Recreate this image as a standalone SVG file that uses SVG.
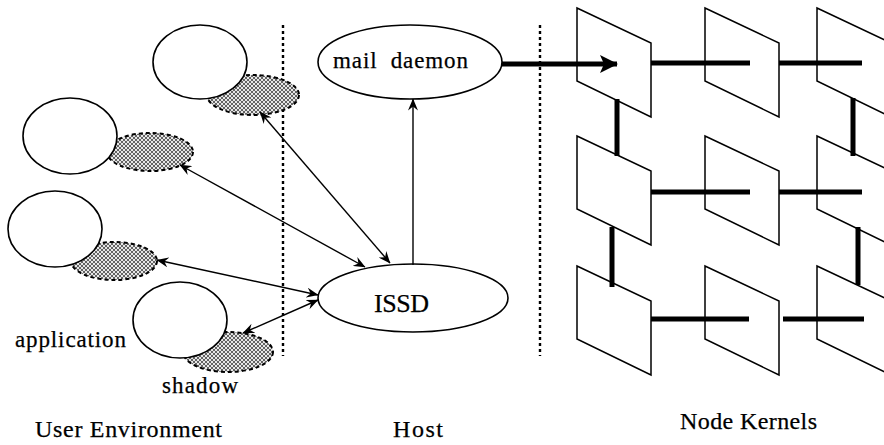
<svg xmlns="http://www.w3.org/2000/svg" width="884" height="445" viewBox="0 0 884 445">
  <style>
    .app { fill: #fff; stroke: #000; stroke-width: 1.6; }
    .shadow { fill: url(#hatch); stroke: #000; stroke-width: 2; stroke-dasharray: 4 3; }
    .proc { fill: #fff; stroke: #000; stroke-width: 1.6; }
    .kernel { fill: #fff; stroke: #000; stroke-width: 1.5; }
    .divider { stroke: #000; stroke-width: 2.4; stroke-dasharray: 3 3; fill: none; }
    .link { stroke: #000; stroke-width: 1.4; fill: none; }
    .net { stroke: #000; stroke-width: 5; fill: none; }
    text { font-family: "Liberation Serif", "Times New Roman", serif; fill: #000; stroke: #000; stroke-width: 0.25; }
  </style>
  <defs>
    <pattern id="hatch" width="4" height="4" patternUnits="userSpaceOnUse">
      <rect width="4" height="4" fill="#e6e6e6"/>
      <path d="M0,0 L4,4 M4,0 L0,4" stroke="#555" stroke-width="0.9"/>
    </pattern>
    <marker id="ah" viewBox="0 0 12 10" refX="11.5" refY="5" markerWidth="12" markerHeight="10" markerUnits="userSpaceOnUse" orient="auto-start-reverse">
      <path d="M0,0 L12,5 L0,10 L4,5 z" fill="#000"/>
    </marker>
    <marker id="bigah" viewBox="0 0 18 18" refX="17" refY="9" markerWidth="18" markerHeight="18" markerUnits="userSpaceOnUse" orient="auto">
      <path d="M0,0 L18,9 L0,18 L4,9 z" fill="#000"/>
    </marker>
    <path id="kernelShape" d="M0,0 L74,35 L74,109 L0,73 Z"/>
  </defs>

  <!-- region dividers -->
  <g id="dividers">
    <line class="divider" x1="283" y1="25" x2="283" y2="356"/>
    <line class="divider" x1="540" y1="25" x2="540" y2="356"/>
  </g>

  <!-- applications with their shadows -->
  <g id="app1">
    <ellipse class="shadow" cx="253" cy="95" rx="46" ry="20"/>
    <ellipse class="app" cx="200" cy="62" rx="47" ry="37"/>
  </g>
  <g id="app2">
    <ellipse class="shadow" cx="150" cy="152" rx="43" ry="19"/>
    <ellipse class="app" cx="70" cy="136" rx="47" ry="38"/>
  </g>
  <g id="app3">
    <ellipse class="shadow" cx="114" cy="261" rx="43" ry="19"/>
    <ellipse class="app" cx="55" cy="229" rx="47" ry="38"/>
  </g>
  <g id="app4">
    <ellipse class="shadow" cx="228" cy="352" rx="45" ry="20"/>
    <ellipse class="app" cx="180" cy="320" rx="47" ry="38"/>
  </g>

  <!-- host processes -->
  <g id="mail-daemon">
    <ellipse class="proc" cx="410" cy="62" rx="92" ry="37"/>
    <text x="333" y="68" font-size="23" textLength="135" lengthAdjust="spacing" xml:space="preserve">mail  daemon</text>
  </g>
  <g id="issd">
    <ellipse class="proc" cx="413" cy="298" rx="95" ry="34"/>
    <text x="374" y="312" font-size="26" textLength="55" lengthAdjust="spacing">ISSD</text>
  </g>

  <!-- node kernel mesh -->
  <g id="kernels">
    <g id="k11"><use href="#kernelShape" class="kernel" x="577" y="8"/></g>
    <g id="k12"><use href="#kernelShape" class="kernel" x="705" y="8"/></g>
    <g id="k13"><use href="#kernelShape" class="kernel" x="817" y="8"/></g>
    <g id="k21"><use href="#kernelShape" class="kernel" x="577" y="136"/></g>
    <g id="k22"><use href="#kernelShape" class="kernel" x="705" y="136"/></g>
    <g id="k23"><use href="#kernelShape" class="kernel" x="817" y="136"/></g>
    <g id="k31"><use href="#kernelShape" class="kernel" x="577" y="266"/></g>
    <g id="k32"><use href="#kernelShape" class="kernel" x="705" y="266"/></g>
    <g id="k33"><use href="#kernelShape" class="kernel" x="817" y="266"/></g>
  </g>

  <!-- connectors -->
  <g id="connectors">
    <line class="link" x1="260" y1="112" x2="390" y2="263" marker-start="url(#ah)" marker-end="url(#ah)"/>
    <line class="link" x1="180" y1="165" x2="365" y2="267" marker-start="url(#ah)" marker-end="url(#ah)"/>
    <line class="link" x1="157" y1="260" x2="318" y2="295" marker-start="url(#ah)" marker-end="url(#ah)"/>
    <line class="link" x1="243" y1="333" x2="318" y2="300" marker-start="url(#ah)" marker-end="url(#ah)"/>
    <line class="link" x1="413" y1="265" x2="413" y2="99" marker-end="url(#ah)"/>
    <line class="net" x1="502" y1="64" x2="617" y2="64" stroke-width="4" marker-end="url(#bigah)"/>
    <!-- mesh links -->
    <line class="net" x1="651" y1="63" x2="750" y2="63"/>
    <line class="net" x1="779" y1="63" x2="862" y2="63"/>
    <line class="net" x1="651" y1="192" x2="750" y2="192"/>
    <line class="net" x1="779" y1="192" x2="862" y2="192"/>
    <line class="net" x1="651" y1="319" x2="749" y2="319"/>
    <line class="net" x1="783" y1="319" x2="864" y2="319"/>
    <line class="net" x1="617" y1="99" x2="617" y2="156"/>
    <line class="net" x1="853" y1="98" x2="853" y2="156"/>
    <line class="net" x1="612" y1="227" x2="612" y2="287"/>
    <line class="net" x1="858" y1="227" x2="858" y2="285"/>
  </g>

  <!-- labels -->
  <g id="labels">
    <text x="15" y="347" font-size="23" textLength="111" lengthAdjust="spacing">application</text>
    <text x="162" y="393" font-size="23" textLength="76" lengthAdjust="spacing">shadow</text>
    <text x="35" y="437" font-size="24" textLength="187" lengthAdjust="spacing">User Environment</text>
    <text x="393" y="437" font-size="24" textLength="50" lengthAdjust="spacing">Host</text>
    <text x="680" y="429" font-size="24" textLength="137" lengthAdjust="spacing">Node Kernels</text>
  </g>
</svg>
